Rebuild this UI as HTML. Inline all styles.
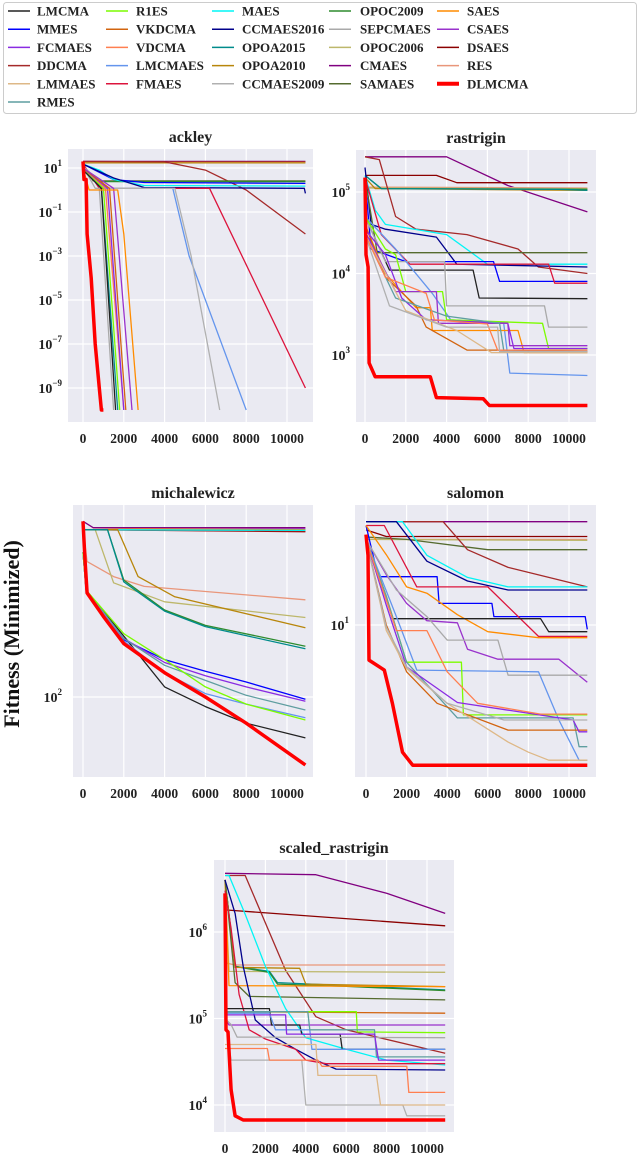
<!DOCTYPE html>
<html><head><meta charset="utf-8"><style>
body{margin:0;background:#fff;}
svg{display:block;font-family:"Liberation Serif",serif;font-weight:bold;}
</style></head><body>
<svg id="fig" width="640" height="1155" viewBox="0 0 640 1155" xmlns="http://www.w3.org/2000/svg">
<g id="legend"></g>
<text x="0" y="0" transform="translate(19,634) rotate(-90)" text-anchor="middle" font-size="22" fill="#111">Fitness (Minimized)</text>
<g id="panels"></g>
</svg>
<script>
const colors = {LMCMA:"#222222",R1ES:"#7cfc00",MAES:"#00f5f5",OPOC2009:"#2e8b2e",SAES:"#ff8c00",
MMES:"#0000ff",VKDCMA:"#d2640f",CCMAES2016:"#00008b",SEPCMAES:"#a9a9a9",CSAES:"#9932cc",
FCMAES:"#8a2be2",VDCMA:"#ff7f50",OPOA2015:"#008b8b",OPOC2006:"#bdb76b",DSAES:"#8b0000",
DDCMA:"#a52a2a",LMCMAES:"#6495ed",OPOA2010:"#b8860b",CMAES:"#800080",RES:"#e9967a",
LMMAES:"#deb887",FMAES:"#dc143c",CCMAES2009:"#b0b0b0",SAMAES:"#556b2f",DLMCMA:"#ff0000",RMES:"#5f9ea0"};
const legendOrder = ["LMCMA","R1ES","MAES","OPOC2009","SAES","MMES","VKDCMA","CCMAES2016","SEPCMAES","CSAES",
"FCMAES","VDCMA","OPOA2015","OPOC2006","DSAES","DDCMA","LMCMAES","OPOA2010","CMAES","RES",
"LMMAES","FMAES","CCMAES2009","SAMAES","DLMCMA","RMES"];
const xTicks = [0,2000,4000,6000,8000,10000];

const ackleySeries = [
["CMAES",[[0,20],[10900,20]]],["DSAES",[[0,19],[10900,19]]],["RES",[[0,18],[10900,18]]],["OPOA2010",[[0,17],[10900,17]]],
["DDCMA",[[0,20],[4000,19],[6000,8],[8000,1],[10900,1e-2]]],
["SAMAES",[[0,15],[500,2.6],[10900,2.6]]],["OPOC2009",[[0,15],[600,2.4],[10900,2.4]]],
["MMES",[[0,15],[1500,3],[3000,2.2],[10900,2.0]]],["MAES",[[0,15],[800,8],[1500,3],[3000,1.6],[10900,1.5]]],
["CCMAES2016",[[0,15],[1500,3.5],[3000,1.3],[10850,1.2],[10900,0.7]]],
["FMAES",[[0,15],[800,1.2],[6200,1.2],[10900,1e-9]]],
["LMCMAES",[[0,12],[1000,1.2],[4400,1.2],[5200,1e-3],[8000,1e-10]]],
["CCMAES2009",[[0,12],[1200,1.2],[4500,1.2],[5300,1e-3],[6700,1e-10]]],
["SEPCMAES",[[0,12],[600,1.2],[800,1.2],[1500,1e-10]]],["OPOA2015",[[0,10],[900,1.2],[1700,1e-10]]],
["R1ES",[[0,10],[1000,1.2],[1800,1e-10]]],["LMCMA",[[0,8],[900,1.2],[1600,1e-10]]],
["VDCMA",[[0,10],[1100,1.2],[2000,1e-10]]],["FCMAES",[[0,10],[1200,1.2],[2000,1e-10]]],
["VKDCMA",[[0,10],[1300,1.2],[2100,1e-10]]],["CSAES",[[0,10],[1500,1.2],[2400,1e-10]]],
["SAES",[[0,10],[300,1.0],[1700,1.0],[2000,1e-2],[2700,1e-10]]],
["DLMCMA",[[0,20],[50,3],[150,3],[200,1e-2],[400,1e-4],[600,1e-7],[800,1e-9],[900,1e-10],[1000,1e-10]]]];

const rastriginSeries = [
["CMAES",[[0,2.7e5],[4000,2.7e5],[7000,1.2e5],[10900,5.7e4]]],["DSAES",[[0,1.6e5],[3500,1.6e5],[4500,1.3e5],[10900,1.3e5]]],
["RES",[[0,1.15e5],[10900,1.12e5]]],["OPOC2006",[[0,1.12e5],[10900,1.1e5]]],["OPOA2010",[[0,1.5e5],[500,1.1e5],[10900,1.05e5]]],
["OPOC2009",[[0,1.6e5],[800,1.1e5],[10900,1.08e5]]],["OPOA2015",[[0,1.6e5],[800,1.1e5],[9500,1.08e5],[10900,1.05e5]]],
["DDCMA",[[0,2.7e5],[700,2.5e5],[1500,5e4],[2500,3.5e4],[5000,3e4],[7500,2e4],[8500,1.2e4],[10900,1e4]]],
["MAES",[[0,1.6e5],[500,6e4],[1000,4e4],[4000,3e4],[6000,1.3e4],[10900,1.3e4]]],
["CCMAES2016",[[0,2e5],[300,4e4],[1000,3.5e4],[3500,2.8e4],[4500,1.3e4],[10900,1.2e4]]],
["MMES",[[0,1.5e5],[300,2e4],[2000,1.4e4],[6300,1.4e4],[6600,8e3],[10900,8e3]]],
["FMAES",[[0,1.5e5],[800,3e4],[2200,1.3e4],[9000,1.3e4],[9300,7.6e3],[10900,7.6e3]]],
["SAMAES",[[0,1.5e5],[600,1.8e4],[10900,1.8e4]]],
["LMCMA",[[0,5e4],[1200,1.1e4],[5300,1.1e4],[5600,5e3],[10900,4.9e3]]],
["SEPCMAES",[[0,5e4],[1000,1.4e4],[3900,1.4e4],[4000,4e3],[8800,4e3],[9000,2.2e3],[10900,2.2e3]]],
["LMCMAES",[[0,5e4],[1500,2e4],[3300,5.7e3],[4200,2.7e3],[6800,2.45e3],[7100,600],[10900,560]]],
["R1ES",[[0,5e4],[1000,2e4],[1500,1.7e4],[2000,6e3],[3800,6e3],[4000,2.7e3],[8700,2.45e3],[9000,1.2e3],[10900,1.2e3]]],
["SAES",[[0,4e4],[500,2e4],[1000,1e4],[2500,3.8e3],[3200,3.8e3],[3300,2e3],[7500,2e3],[7800,1.07e3],[10900,1.07e3]]],
["VKDCMA",[[0,4e4],[1000,9e3],[2500,4e3],[3000,2.2e3],[5000,1.15e3],[7000,1.15e3],[10900,1.1e3]]],
["FCMAES",[[0,3.5e4],[1000,1.7e4],[1800,5e3],[3000,2.7e3],[7000,2.45e3],[7300,1.2e3],[10900,1.2e3]]],
["CSAES",[[0,3.3e4],[1500,6e3],[3500,6e3],[3600,2.45e3],[7000,2.45e3],[7100,1.3e3],[10900,1.3e3]]],
["RMES",[[0,3e4],[1500,5e3],[4000,3e3],[6600,2.45e3],[6800,1.15e3],[10900,1.15e3]]],
["LMMAES",[[0,3e4],[2000,3.5e3],[4500,2e3],[6200,1.07e3],[10900,1.07e3]]],
["VDCMA",[[0,3e4],[1000,9e3],[3000,5.7e3],[3400,2.7e3],[6000,2.4e3],[6500,1.15e3],[10900,1.15e3]]],
["CCMAES2009",[[0,3e4],[1200,4e3],[4000,2.2e3],[6500,2.2e3],[6600,1.1e3],[10900,1.1e3]]],
["DLMCMA",[[0,1.5e5],[50,1.7e4],[150,1.2e4],[200,800],[500,540],[3200,540],[3500,300],[5800,290],[6100,240],[10900,240]]]];

const michSeries = [
["CMAES",[[0,275],[500,265],[10900,265]]],["DSAES",[[0,262],[10900,259]]],["DDCMA",[[0,262],[10900,260]]],
["CSAES",[[0,262],[10900,263]]],["SAES",[[0,262],[3000,263],[10900,262]]],["MAES",[[0,262],[10900,261]]],
["RES",[[0,262],[200,218],[1500,200],[3000,189],[10900,175]]],
["OPOC2006",[[0,262],[600,262],[1500,193],[4000,173],[10900,158]]],
["OPOA2010",[[0,262],[1700,262],[2700,200],[4500,178],[10900,149]]],
["OPOC2009",[[0,262],[1200,262],[2000,196],[4000,165],[6000,151],[10900,134]]],
["OPOA2015",[[0,262],[1200,262],[2000,194],[4000,164],[6000,150],[10900,132]]],
["LMCMA",[[0,262],[150,185],[2000,142],[4000,106],[6000,94.6],[8000,86],[10900,79]]],
["MMES",[[0,230],[150,185],[2000,139],[4000,124],[6000,116],[8000,109],[10900,98.7]]],
["FCMAES",[[0,230],[150,185],[2000,140],[4000,122],[6000,113],[8000,106],[10900,97.6]]],
["RMES",[[0,230],[150,185],[2000,140],[4000,120],[6000,110],[8000,101],[10900,92.8]]],
["LMCMAES",[[0,230],[150,185],[2000,138],[4000,115],[6000,102],[8000,96],[10900,88.7]]],
["R1ES",[[0,230],[150,185],[2000,144],[4000,124],[6000,106],[8000,96],[10900,87.6]]],
["DLMCMA",[[0,275],[100,220],[200,182],[1000,159],[2000,136],[4000,115],[6000,100],[8000,86],[10900,67.6]]]];

const salSeries = [
["CMAES",[[0,25.9],[10900,25.9]]],["DSAES",[[0,24],[1000,22.6],[10900,22.6]]],["RES",[[0,22],[10900,22]]],
["OPOC2006",[[0,22],[10900,21.8]]],["SAMAES",[[0,22.5],[2000,22],[6000,20],[10900,20]]],
["DDCMA",[[0,25.9],[3800,25.9],[5000,20],[7000,17],[10900,14.2]]],
["MAES",[[0,25.9],[1800,25.9],[3000,19],[5000,15.5],[7000,14.2],[10900,14.2]]],
["CCMAES2016",[[0,25.9],[1500,25.9],[3000,18],[5000,15],[7000,13.8],[10900,13.8]]],
["MMES",[[0,25],[600,15.6],[3500,15.6],[3600,12.2],[6200,12.2],[6300,10.8],[10800,10.8],[10900,9.6]]],
["FMAES",[[0,25],[900,25],[2500,14.2],[6000,14.2],[8500,9],[10900,9]]],
["SAES",[[0,25],[1000,19.1],[2000,14.2],[3000,13.4],[4500,11],[6000,9.4],[8500,8.9],[10900,8.9]]],
["LMCMA",[[0,22],[1000,13],[1300,10.6],[8600,10.6],[9000,9.4],[10900,9.4]]],
["CSAES",[[0,22],[1000,15.9],[2000,12.2],[3000,10.4],[4500,10.2],[5000,8.0],[6500,7.3],[9500,7.3],[10900,5.9]]],
["SEPCMAES",[[0,22],[1500,13.8],[3000,10.8],[4000,8.7],[6500,8.7],[7000,6.3],[10900,6.3]]],
["LMCMAES",[[0,22],[1500,10.8],[2500,6.6],[8500,6.5],[9500,4.17],[10500,2.88],[10900,2.88]]],
["R1ES",[[0,22],[1000,13],[2000,7.1],[4700,7.1],[4800,4.37],[10900,4.37]]],
["RMES",[[0,22],[1000,13],[2000,7.1],[4500,4.25],[10200,4.25],[10500,3.26],[10900,3.26]]],
["VKDCMA",[[0,22],[1000,10],[2000,6.5],[3500,4.86],[7000,3.8],[10900,3.8]]],
["LMMAES",[[0,22],[1000,9.5],[2000,6.7],[4000,4.86],[7000,3.4],[8000,3.1],[9000,2.88],[10900,2.88]]],
["FCMAES",[[0,22],[1000,12],[2000,6.8],[4500,4.9],[10200,4.17],[10500,3.74],[10900,3.74]]],
["CCMAES2009",[[0,22],[1000,9.8],[2000,6.8],[4000,4.86],[6800,4.17],[10900,4.17]]],
["VDCMA",[[0,22],[1500,9.5],[3000,9.5],[4000,6.5],[5500,4.86],[8600,4.4],[10900,4.4]]],
["DLMCMA",[[0,23],[100,19],[150,7.24],[900,6.6],[1300,4.86],[1800,3.1],[2300,2.75],[10900,2.75]]]];

const scaledSeries = [
["CMAES",[[0,4.77e6],[4500,4.6e6],[8000,2.8e6],[10900,1.64e6]]],["DSAES",[[0,1.8e6],[10900,1.18e6]]],
["DDCMA",[[0,4.5e6],[1000,4.5e6],[3000,3.6e5],[4500,1.05e5],[6000,7.4e4],[10900,3.96e4]]],
["RES",[[0,4.4e5],[500,4.15e5],[10900,4.15e5]]],["OPOC2006",[[0,4e6],[200,3.5e5],[10900,3.42e5]]],
["OPOA2015",[[0,4e6],[500,4e5],[2200,3.5e5],[2600,2.6e5],[6000,2.4e5],[10900,2.14e5]]],
["OPOC2009",[[0,4e6],[500,4e5],[2200,3.4e5],[2600,2.5e5],[6000,2.35e5],[10900,2.1e5]]],
["OPOA2010",[[0,4e6],[500,3.9e5],[3700,3.8e5],[4000,2.5e5],[10900,2.34e5]]],
["SAES",[[0,4e6],[200,2.4e5],[10900,2.34e5]]],
["SAMAES",[[0,4e6],[500,2.6e5],[1200,1.8e5],[10900,1.64e5]]],
["VKDCMA",[[0,1.2e5],[10900,1.15e5]]],["CSAES",[[0,1e5],[200,8.4e4],[10900,8.4e4]]],
["MAES",[[0,4.5e6],[200,4.5e6],[1000,1.6e6],[2000,4e5],[3000,1.3e5],[4000,6e4],[6000,4.4e4],[8000,3.3e4],[10900,2.9e4]]],
["CCMAES2016",[[0,4e6],[500,1.64e6],[900,4e5],[1500,9.6e4],[2500,6e4],[3500,4.4e4],[4500,3.3e4],[5500,2.6e4],[10900,2.54e4]]],
["FMAES",[[0,3e6],[300,1.1e6],[700,1.9e5],[1200,7.4e4],[2000,5.8e4],[3500,4.4e4],[4000,3.3e4],[5000,3e4],[10900,3e4]]],
["R1ES",[[0,1.2e5],[6500,1.2e5],[6550,7e4],[10900,6.86e4]]],
["LMCMA",[[0,1.3e5],[2200,1.3e5],[2300,8.4e4],[3700,8.4e4],[3800,6.6e4],[5700,6.6e4],[5800,4.4e4],[10900,4.4e4]]],
["LMCMAES",[[0,1.15e5],[2200,1.15e5],[2500,7.4e4],[4200,7.4e4],[4300,4.4e4],[10900,4.4e4]]],
["RMES",[[0,1.2e5],[4100,1.2e5],[4200,7.4e4],[7400,7.4e4],[7500,3.6e4],[10900,3.6e4]]],
["SEPCMAES",[[0,1e5],[300,8.5e4],[600,6.1e4],[10900,6e4]]],
["FCMAES",[[0,1.1e5],[3000,1.1e5],[3050,6.6e4],[7400,6.6e4],[7600,3.3e4],[10900,3.3e4]]],
["CCMAES2009",[[0,1e5],[300,3.3e4],[3800,3.3e4],[4000,1e4],[8800,1e4],[9000,7.5e3],[10900,7.5e3]]],
["LMMAES",[[0,5e4],[4500,5e4],[4600,2.2e4],[7500,2.2e4],[7700,1e4],[10900,1e4]]],
["VDCMA",[[0,4.5e4],[2100,4.5e4],[2200,3.3e4],[4600,3.3e4],[4800,2.8e4],[9000,2.8e4],[9100,1.4e4],[10900,1.4e4]]],
["DLMCMA",[[0,2.8e6],[50,7.4e4],[150,7e4],[300,1.5e4],[500,7.5e3],[900,6.7e3],[10900,6.7e3]]]];

const NS="http://www.w3.org/2000/svg";
const svg=document.getElementById('fig');
function mk(tag,attrs,parent){const e=document.createElementNS(NS,tag);for(const k in attrs)e.setAttribute(k,attrs[k]);parent.appendChild(e);return e;}

// legend
const lg=document.getElementById('legend');
const box=mk('rect',{x:3.5,y:2.5,width:633,height:111,rx:3,fill:'#fff',stroke:'#ccc'},lg);


const colLine=[8,106,212,329,437], colText=[37,136,242,360,467];
legendOrder.forEach((n,i)=>{
  const c=i%5, r=Math.floor(i/5), y=11+r*18.2;
  const g=mk('g',{},lg);
  
  
  mk('line',{x1:colLine[c],x2:colLine[c]+22,y1:y,y2:y,stroke:colors[n],'stroke-width':n==='DLMCMA'?4:1.5},g);
  const t=mk('text',{x:colText[c],y:y+4.5,'font-size':13,fill:'#222'},g);t.textContent=n;
});

const panels=[
 {name:'ackley',L:68,T:149,R:313,B:422,x0:83,x1:287,yRef:168,refExp:1,D:22,ticks:[1,-1,-3,-5,-7,-9],tx:62,series:ackleySeries},
 {name:'rastrigin',L:356,T:150,R:596,B:422,x0:365,x1:569,yRef:192,refExp:5,D:81.5,ticks:[5,4,3],tx:350,series:rastriginSeries},
 {name:'michalewicz',L:73,T:505,R:313,B:777,x0:83,x1:287,yRef:697,refExp:2,D:400,ticks:[2],tx:62,series:michSeries},
 {name:'salomon',L:355,T:505,R:596,B:777,x0:366,x1:569,yRef:625,refExp:1,D:250,ticks:[1],tx:349,series:salSeries},
 {name:'scaled_rastrigin',L:214,T:860,R:454,B:1132,x0:225,x1:427,yRef:932,refExp:6,D:86.5,ticks:[6,5,4],tx:207,series:scaledSeries}];

const root=document.getElementById('panels');
panels.forEach((p,pi)=>{
  const g=mk('g',{},root);
  
  
  const xs=v=>p.x0+(p.x1-p.x0)*v/10000;
  const ys=v=>p.yRef-(Math.log10(v)-p.refExp)*p.D;
  mk('rect',{x:p.L,y:p.T,width:p.R-p.L,height:p.B-p.T,fill:'#eaeaf2'},g);
  const cid='clip'+pi;
  const cp=mk('clipPath',{id:cid},g);mk('rect',{x:p.L,y:p.T,width:p.R-p.L,height:p.B-p.T},cp);
  xTicks.forEach(t=>{
    const gl=mk('line',{x1:xs(t),x2:xs(t),y1:p.T,y2:p.B,stroke:'#fff','stroke-width':1.2},g);
    
    
    const tl=mk('text',{x:xs(t),y:p.B+21,'text-anchor':'middle','font-size':13.5,fill:'#222'},g);
    tl.textContent=t;
    
    
  });
  p.ticks.forEach(e=>{
    const y=ys(Math.pow(10,e));
    const gl=mk('line',{x1:p.L,x2:p.R,y1:y,y2:y,stroke:'#fff','stroke-width':1.2},g);
    
    
    const tl=mk('text',{x:p.tx,y:y+5,'text-anchor':'end','font-size':14,fill:'#222'},g);
    
    
    const a=document.createElementNS(NS,'tspan');a.textContent='10';tl.appendChild(a);
    const b=document.createElementNS(NS,'tspan');b.setAttribute('dy','-7');b.setAttribute('font-size','9');
    b.textContent=(e<0?'\u2212':'')+Math.abs(e);tl.appendChild(b);
  });
  const title=mk('text',{x:(p.L+p.R)/2,y:p.T-7,'text-anchor':'middle','font-size':16,fill:'#222'},g);
  title.textContent=p.name;
  
  
  const lines=mk('g',{'clip-path':'url(#'+cid+')'},g);
  p.series.forEach(([n,pts])=>{
    const pl=mk('polyline',{points:pts.map(q=>xs(q[0]).toFixed(1)+','+ys(q[1]).toFixed(1)).join(' '),fill:'none',
      stroke:colors[n],'stroke-width':n==='DLMCMA'?3.5:1.3,'stroke-linejoin':'round'},lines);
    
    
  });
});
</script>
</body></html>
